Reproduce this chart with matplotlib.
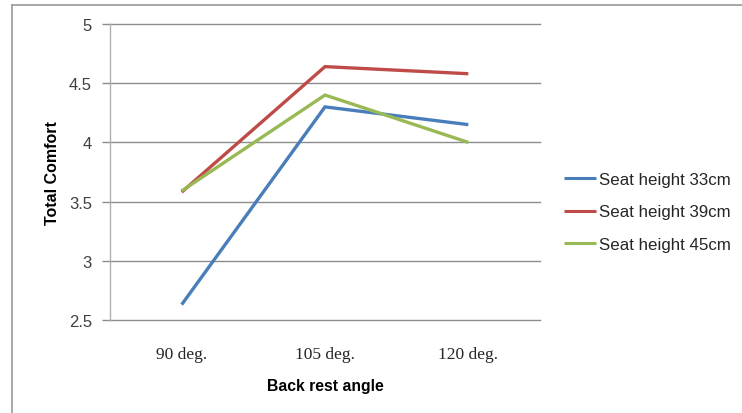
import matplotlib
matplotlib.use("Agg")
import matplotlib.pyplot as plt
from matplotlib.lines import Line2D

categories = ["90 deg.", "105 deg.", "120 deg."]
series_names = ["Seat height 33cm", "Seat height 39cm", "Seat height 45cm"]
seat_33 = [2.63, 4.30, 4.15]
seat_39 = [3.58, 4.64, 4.58]
seat_45 = [3.59, 4.40, 4.00]
y_ticks = [2.5, 3, 3.5, 4, 4.5, 5]
y_tick_labels = ["2.5", "3", "3.5", "4", "4.5", "5"]
colors = ["#4A7EBB", "#BE4B48", "#98B954"]

fig = plt.figure(figsize=(7.42, 4.14), dpi=100)
fig.patch.set_facecolor("white")

# outer chart border (left and top edges visible)
fig.add_artist(Line2D([12/742, 12/742], [0, 1 - 6/414], transform=fig.transFigure,
                      color="#a0a0a0", lw=1.3))
fig.add_artist(Line2D([12/742, 1], [1 - 6/414, 1 - 6/414], transform=fig.transFigure,
                      color="#a0a0a0", lw=1.3))

ax = fig.add_axes([110/742, 1 - 321/414, 430/742, 296/414])
x = list(range(len(categories)))
for vals, name, c in zip([seat_33, seat_39, seat_45], series_names, colors):
    ax.plot(x, vals, color=c, lw=2.4, label=name, solid_capstyle="butt",
            solid_joinstyle="miter")

ax.set_xlim(-0.5, len(categories) - 0.5)
ax.set_ylim(2.5, 5)
ax.set_yticks(y_ticks)
ax.set_yticklabels(y_tick_labels, fontsize=12, color="#404040", family="Liberation Sans")
ax.set_xticks(x)
ax.set_xticklabels(categories, fontsize=12.5, color="#262626", family="Liberation Serif")
for t in y_ticks:
    ax.axhline(t, color="#8c8c8c", lw=1.0, zorder=0, clip_on=False)
for s in ["top", "right", "bottom"]:
    ax.spines[s].set_visible(False)
ax.spines["left"].set_color("#b0b0b0")
ax.spines["left"].set_linewidth(1.0)
ax.tick_params(axis="y", length=6, width=1.0, color="#8c8c8c", pad=7)
ax.tick_params(axis="x", length=0, pad=19)

ax.set_ylabel("Total Comfort", fontsize=11.5, fontweight="bold", family="Liberation Sans",
              labelpad=6)
ax.set_xlabel("Back rest angle", fontsize=11.3, fontweight="bold", family="Liberation Sans",
              labelpad=11)

leg = ax.legend(loc="center left", bbox_to_anchor=(564/742, 1 - 213/414),
                bbox_transform=fig.transFigure, frameon=False, fontsize=12.2,
                handlelength=1.9, handletextpad=0.15, labelspacing=1.05,
                borderaxespad=0, borderpad=0)
for t in leg.get_texts():
    t.set_family("Liberation Sans")
    t.set_color("#262626")
for h in leg.get_lines():
    h.set_linewidth(2.2)

fig.savefig("out.png", dpi=100, facecolor="white")
